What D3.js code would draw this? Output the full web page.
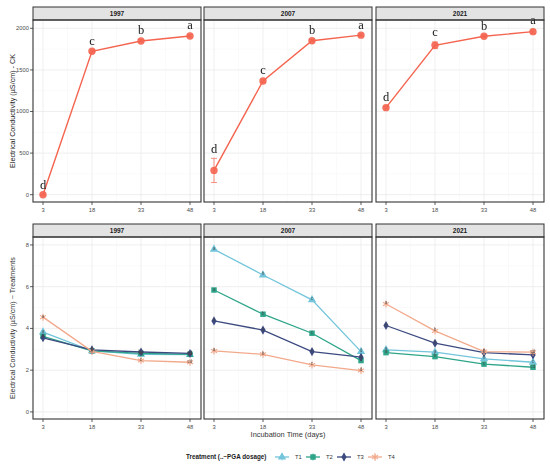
<!DOCTYPE html>
<html>
<head>
<meta charset="utf-8">
<script src="https://cdn.jsdelivr.net/npm/d3@7"></script>
<style>
body{margin:0;background:#fff;}
svg{font-family:"Liberation Sans",Arial,sans-serif;}
.lettrs{filter:grayscale(1);}
</style>
</head>
<body>
<div id="chart"></div>
<script>
// data
const days=[3,18,33,48];
const years=["1997","2007","2021"];
const treatments=["T1","T2","T3","T4"];

// CK (upper row)
const ckMean=[[0,1724,1848,1908],[292,1367,1851,1918],[1046,1796,1904,1960]];
const ckSE=[[8,15,15,15],[145,15,15,12],[15,40,15,20]];
const ckLetters=[["d","c","b","a"],["d","c","b","a"],["d","c","b","a"]];

// treatments (lower row), one array per year
const t1Mean=[[3.82,2.92,2.76,2.75],[7.79,6.56,5.37,2.89],[2.97,2.86,2.54,2.38]];
const t2Mean=[[3.62,2.92,2.8,2.76],[5.84,4.68,3.77,2.46],[2.84,2.65,2.29,2.14]];
const t3Mean=[[3.55,2.97,2.87,2.8],[4.36,3.92,2.89,2.62],[4.14,3.29,2.84,2.73]];
const t4Mean=[[4.54,2.9,2.46,2.38],[2.92,2.76,2.25,1.98],[5.17,3.88,2.89,2.86]];
const tSE=0.06;
const t1Letters=[["a","b","bc","cd"],["a","b","c","d"],["a","a","b","c"]];
const t2Letters=[["a","b","bc","cd"],["a","b","c","d"],["a","b","c","cd"]];
const t3Letters=[["a","b","bc","cd"],["a","b","c","d"],["a","b","c","c"]];
const t4Letters=[["a","b","c","cd"],["a","b","c","d"],["a","b","c","cd"]];

const ckTicks=[0,500,1000,1500,2000];
const tTicks=[0,2,4,6,8];

const ckColor="#F4644F";
const tColors=["#72C5DA","#2EA589","#3C4A80","#F2A98B"];
const tShapes=[d3.symbolTriangle,d3.symbolSquare,d3.symbolDiamond,d3.symbolAsterisk];
const tSizes=[30,30,24,34];

const width=550,height=465;
const panelX=[[33,201],[204,372],[376,544]];
const topRow={strip:[7,20],body:[20,202]};
const botRow={strip:[224,237],body:[237,419]};

const svg=d3.select("#chart").append("svg").attr("width",width).attr("height",height);

const yTop=d3.scaleLinear().domain([-88,2100]).range([topRow.body[1],topRow.body[0]]);
const yBot=d3.scaleLinear().domain([-0.34,8.38]).range([botRow.body[1],botRow.body[0]]);

function drawPanel(row,pi,yScale,ticks,minor,label,showY){
    const [x0,x1]=panelX[pi];
    const xScale=d3.scaleLinear().domain([3,48]).range([x0+10,x1-11]);
    const g=svg.append("g");
    // background + grid
    g.append("rect").attr("x",x0).attr("y",row.body[0]).attr("width",x1-x0).attr("height",row.body[1]-row.body[0]).attr("fill","#fff");
    g.selectAll(".minor").data(minor).enter().append("line")
        .attr("x1",x0).attr("x2",x1).attr("y1",d=>yScale(d)).attr("y2",d=>yScale(d))
        .attr("stroke","#f4f4f4").attr("stroke-width",0.5);
    g.selectAll(".hmaj").data(ticks).enter().append("line")
        .attr("x1",x0).attr("x2",x1).attr("y1",d=>yScale(d)).attr("y2",d=>yScale(d))
        .attr("stroke","#ebebeb").attr("stroke-width",0.8);
    g.selectAll(".vmin").data([10.5,25.5,40.5]).enter().append("line")
        .attr("x1",d=>xScale(d)).attr("x2",d=>xScale(d)).attr("y1",row.body[0]).attr("y2",row.body[1])
        .attr("stroke","#f4f4f4").attr("stroke-width",0.5);
    g.selectAll(".vmaj").data(days).enter().append("line")
        .attr("x1",d=>xScale(d)).attr("x2",d=>xScale(d)).attr("y1",row.body[0]).attr("y2",row.body[1])
        .attr("stroke","#ebebeb").attr("stroke-width",0.8);
    // strip
    g.append("rect").attr("x",x0).attr("y",row.strip[0]).attr("width",x1-x0).attr("height",row.strip[1]-row.strip[0])
        .attr("fill","#e3e3e3").attr("stroke","#333").attr("stroke-width",1);
    g.append("text").attr("x",(x0+x1)/2).attr("y",(row.strip[0]+row.strip[1])/2+2.3)
        .attr("text-anchor","middle").attr("font-size",6.5).attr("font-weight","bold").attr("fill","#1a1a1a").text(label);
    // x axis
    const xa=g.append("g");
    days.forEach(d=>{
        xa.append("line").attr("x1",xScale(d)).attr("x2",xScale(d)).attr("y1",row.body[1]).attr("y2",row.body[1]+3)
            .attr("stroke","#333").attr("stroke-width",0.8);
        xa.append("text").attr("x",xScale(d)).attr("y",row.body[1]+9.5).attr("text-anchor","middle")
            .attr("font-size",5.8).attr("fill","#4d4d4d").text(d);
    });
    if(showY){
        ticks.forEach(t=>{
            g.append("line").attr("x1",x0-3).attr("x2",x0).attr("y1",yScale(t)).attr("y2",yScale(t))
                .attr("stroke","#333").attr("stroke-width",0.8);
            g.append("text").attr("x",x0-4).attr("y",yScale(t)+2).attr("text-anchor","end")
                .attr("font-size",5.8).attr("fill","#4d4d4d").text(t);
        });
    }
    return {g,xScale};
}

function drawSymbol(g,x,y,shape,color,size){
    const stroke=shape===d3.symbolAsterisk;
    g.append("path").attr("d",d3.symbol().type(shape).size(size)())
        .attr("transform",`translate(${x},${y})`)
        .attr("fill",stroke?"none":color).attr("stroke",stroke?color:"none").attr("stroke-width",1.1);
}

// upper row
years.forEach((yr,pi)=>{
    const {g,xScale}=drawPanel(topRow,pi,yTop,ckTicks,[250,750,1250,1750],yr,pi===0);
    const pts=days.map((d,i)=>({x:d,m:ckMean[pi][i],se:ckSE[pi][i],l:ckLetters[pi][i]}));
    pts.forEach(p=>{
        const cx=xScale(p.x);
        g.append("line").attr("x1",cx).attr("x2",cx).attr("y1",yTop(p.m-p.se)).attr("y2",yTop(p.m+p.se))
            .attr("stroke",ckColor).attr("stroke-width",0.9).attr("opacity",0.8);
        [p.m-p.se,p.m+p.se].forEach(v=>g.append("line").attr("x1",cx-3).attr("x2",cx+3).attr("y1",yTop(v)).attr("y2",yTop(v))
            .attr("stroke",ckColor).attr("stroke-width",0.9).attr("opacity",0.8));
    });
    g.append("path").datum(pts).attr("fill","none").attr("stroke",ckColor).attr("stroke-width",1.4)
        .attr("d",d3.line().x(p=>xScale(p.x)).y(p=>yTop(p.m)));
    const lt=g.append("g").attr("class","lettrs");
    pts.forEach(p=>{
        g.append("circle").attr("cx",xScale(p.x)).attr("cy",yTop(p.m)).attr("r",3.7).attr("fill",ckColor).attr("opacity",0.9);
        lt.append("text").attr("x",xScale(p.x)).attr("y",yTop(p.m+p.se)-5.5).attr("text-anchor","middle")
            .attr("font-family","'Liberation Serif','Times New Roman',serif").attr("font-size",12.5).attr("fill","#1a1a1a").text(p.l);
    });
    g.append("rect").attr("x",panelX[pi][0]).attr("y",topRow.body[0]).attr("width",panelX[pi][1]-panelX[pi][0])
        .attr("height",topRow.body[1]-topRow.body[0]).attr("fill","none").attr("stroke","#333").attr("stroke-width",1.1);
});

// lower row
const tMeans=[t1Mean,t2Mean,t3Mean,t4Mean];
const tLetters=[t1Letters,t2Letters,t3Letters,t4Letters];
years.forEach((yr,pi)=>{
    const {g,xScale}=drawPanel(botRow,pi,yBot,tTicks,[1,3,5,7],yr,pi===0);
    treatments.forEach((t,ti)=>{
        const pts=days.map((d,i)=>({x:d,m:tMeans[ti][pi][i],l:tLetters[ti][pi][i]}));
        pts.forEach(p=>{
            const cx=xScale(p.x);
            g.append("line").attr("x1",cx).attr("x2",cx).attr("y1",yBot(p.m-tSE)).attr("y2",yBot(p.m+tSE))
                .attr("stroke",tColors[ti]).attr("stroke-width",0.8);
        });
        g.append("path").datum(pts).attr("fill","none").attr("stroke",tColors[ti]).attr("stroke-width",1.3)
            .attr("d",d3.line().x(p=>xScale(p.x)).y(p=>yBot(p.m)));
        pts.forEach(p=>drawSymbol(g,xScale(p.x),yBot(p.m),tShapes[ti],tColors[ti],tSizes[ti]));
    });
    treatments.forEach((t,ti)=>{
        days.forEach((d,i)=>{
            g.append("text").attr("x",xScale(d)).attr("y",yBot(tMeans[ti][pi][i])+0.5)
                .attr("text-anchor","middle").attr("font-size",4.6).attr("fill","#444").attr("opacity",0.8)
                .text(tLetters[ti][pi][i]);
        });
    });
    g.append("rect").attr("x",panelX[pi][0]).attr("y",botRow.body[0]).attr("width",panelX[pi][1]-panelX[pi][0])
        .attr("height",botRow.body[1]-botRow.body[0]).attr("fill","none").attr("stroke","#333").attr("stroke-width",1.1);
});

// axis titles
svg.append("text").attr("transform","translate(15,111) rotate(-90)").attr("text-anchor","middle")
    .attr("font-size",7.2).attr("fill","#1a1a1a").text("Electrical Conductivity (µS/cm) - CK");
svg.append("text").attr("transform","translate(15,328) rotate(-90)").attr("text-anchor","middle")
    .attr("font-size",7.2).attr("fill","#333").text("Electrical Conductivity (µS/cm) − Treatments");
svg.append("text").attr("x",288).attr("y",436.5).attr("text-anchor","middle")
    .attr("font-size",7.4).attr("fill","#333").text("Incubation Time (days)");

// legend
const lg=svg.append("g");
lg.append("text").attr("x",186).attr("y",459.3).attr("font-size",6.3).attr("font-weight","bold").attr("fill","#1a1a1a")
    .text("Treatment (..−PGA dosage)");
const keyX=[282,313,344,375];
treatments.forEach((t,ti)=>{
    const cx=keyX[ti],cy=457;
    lg.append("line").attr("x1",cx-7).attr("x2",cx+7).attr("y1",cy).attr("y2",cy).attr("stroke",tColors[ti]).attr("stroke-width",1.3);
    lg.append("line").attr("x1",cx).attr("x2",cx).attr("y1",cy-3.5).attr("y2",cy+3.5).attr("stroke",tColors[ti]).attr("stroke-width",0.8);
    drawSymbol(lg,cx,cy,tShapes[ti],tColors[ti],tSizes[ti]);
    lg.append("text").attr("x",cx+13).attr("y",cy+2.2).attr("font-size",5.8).attr("fill","#333").text(t);
});
</script>
</body>
</html>
